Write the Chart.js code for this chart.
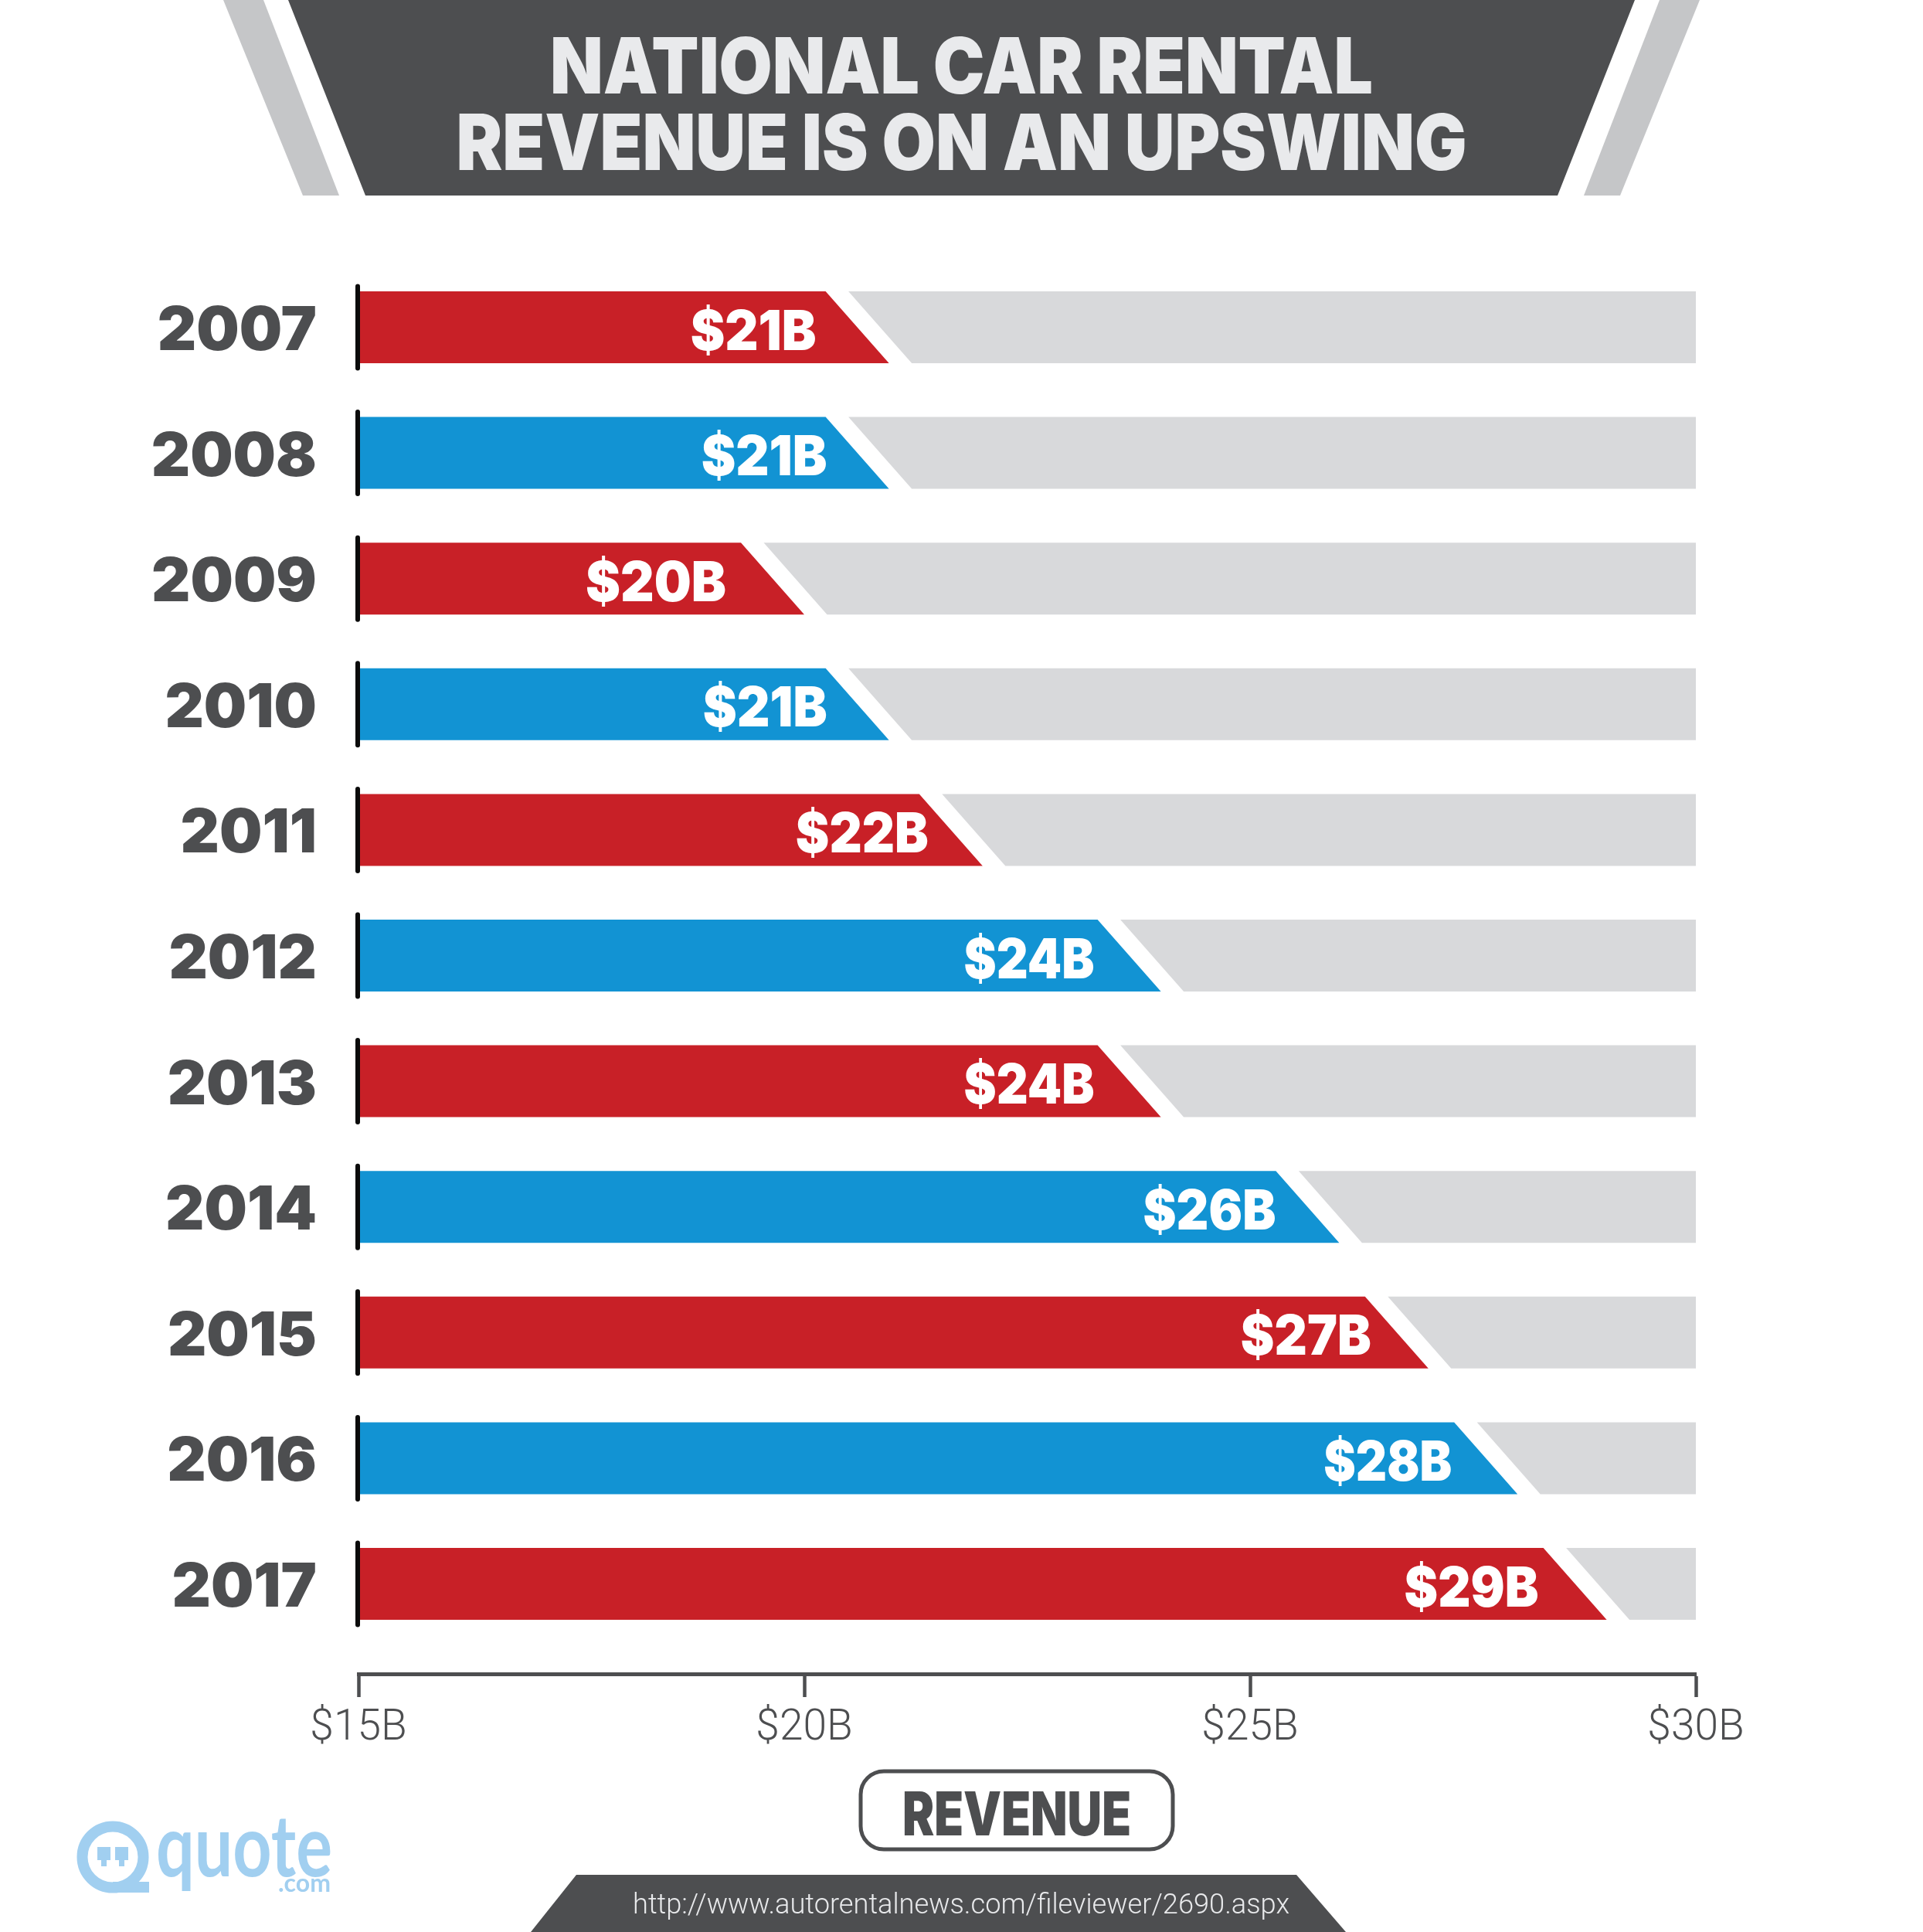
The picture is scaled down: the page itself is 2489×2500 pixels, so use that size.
<!DOCTYPE html>
<html>
<head>
<meta charset="utf-8">
<title>National Car Rental Revenue</title>
<script src="https://cdn.jsdelivr.net/npm/chart.js@4/dist/chart.umd.min.js"></script>
<style>
  html, body { margin: 0; padding: 0; background: #fff; }
  canvas { display: block; }
</style>
</head>
<body>
<canvas id="revenueChart" width="2489" height="2500"></canvas>
<script>
const years = ['2007', '2008', '2009', '2010', '2011', '2012', '2013', '2014', '2015', '2016', '2017'];
const revenue = [20.95, 20.95, 20, 20.95, 22, 24, 24, 26, 27, 28, 29];
const valueLabels = ['$21B', '$21B', '$20B', '$21B', '$22B', '$24B', '$24B', '$26B', '$27B', '$28B', '$29B'];
const axisMin = 15;
const axisMax = 30;
const axisStep = 5;
const titleLines = ['NATIONAL CAR RENTAL', 'REVENUE IS ON AN UPSWING'];
const axisName = 'REVENUE';
const sourceUrl = 'http://www.autorentalnews.com/fileviewer/2690.aspx';

const DARK = '#4d4e50';
const RED = '#c82027';
const BLUE = '#1293d3';
const GREY = '#d8d9db';
const LOGO = '#a1cff0';
const HEAVY = 'Inter, "Noto Sans", sans-serif';
const LIGHT = 'Roboto, "Liberation Sans", sans-serif';

const SLANT = 82;
const GAP = 29.5;
// how far each value label ends left of its bar tip, and how wide it is
const labelInset = [94, 80, 101, 80, 70, 86, 86, 82, 74, 85, 88];
const labelWidth = [163, 163, 182, 161, 172, 169, 169, 172, 169, 166, 174];

function poly(ctx, pts, color) {
  ctx.fillStyle = color;
  ctx.beginPath();
  pts.forEach((p, i) => (i ? ctx.lineTo(p[0], p[1]) : ctx.moveTo(p[0], p[1])));
  ctx.closePath();
  ctx.fill();
}

// the original font is not installed, so fit each string to its measured width
function drawText(ctx, text, x, y, font, color, width, align) {
  ctx.save();
  ctx.font = font;
  ctx.fillStyle = color;
  ctx.textAlign = align || 'center';
  ctx.textBaseline = 'alphabetic';
  ctx.translate(x, y);
  ctx.scale(width / ctx.measureText(text).width, 1);
  ctx.fillText(text, 0, 0);
  ctx.restore();
}

function drawBanner(ctx, W) {
  poly(ctx, [[289, 0], [341, 0], [439, 253], [392, 253]], '#c5c6c8');
  poly(ctx, [[W - 289, 0], [W - 341, 0], [W - 439, 253], [W - 392, 253]], '#c5c6c8');
  poly(ctx, [[373, 0], [W - 373, 0], [W - 473, 253], [473, 253]], DARK);
  drawText(ctx, titleLines[0], W / 2, 121, '900 100px ' + HEAVY, '#e9eaec', 1065);
  drawText(ctx, titleLines[1], W / 2, 220, '900 100px ' + HEAVY, '#e9eaec', 1308);
}

function drawFooter(ctx) {
  poly(ctx, [[746, 2426], [1678, 2426], [1742, 2500], [687, 2500]], DARK);
  drawText(ctx, sourceUrl, 1244, 2476, '300 36px ' + LIGHT, '#e9eaec', 850);

  // axis name badge
  ctx.strokeStyle = DARK;
  ctx.lineWidth = 5;
  ctx.beginPath();
  ctx.roundRect(1114, 2292, 404, 101, 30);
  ctx.stroke();
  drawText(ctx, axisName, 1316, 2375, '900 78px ' + HEAVY, DARK, 296);
}

function drawLogo(ctx) {
  ctx.strokeStyle = LOGO;
  ctx.lineWidth = 14;
  ctx.beginPath();
  ctx.arc(146, 2403, 39.5, 0, Math.PI * 2);
  ctx.stroke();
  ctx.fillStyle = LOGO;
  ctx.fillRect(146, 2435, 47, 14);
  ctx.fillRect(126, 2390, 17, 17);
  ctx.fillRect(149, 2390, 17, 17);
  ctx.fillRect(131, 2405, 7, 10);
  ctx.fillRect(154, 2405, 7, 10);
  drawText(ctx, 'quote', 202, 2428, '700 112px Lato, ' + HEAVY, LOGO, 228, 'left');
  drawText(ctx, '.com', 428, 2448, '700 32px Lato, ' + HEAVY, LOGO, 68, 'right');
}

const decorations = {
  id: 'decorations',
  beforeDraw(chart) {
    const ctx = chart.ctx;
    ctx.save();
    drawBanner(ctx, chart.width);
    drawFooter(ctx);
    drawLogo(ctx);
    ctx.restore();
  },
  // bars have a slanted end, so draw them from the library's elements
  beforeDatasetDraw(chart, args) {
    const ctx = chart.ctx;
    const isTrack = args.index === 0;
    const colors = args.meta.controller.getDataset().backgroundColor;
    args.meta.data.forEach((bar, i) => {
      const { x, y, base, height } = bar.getProps(['x', 'y', 'base', 'height'], true);
      const top = y - height / 2;
      const bottom = y + height / 2;
      if (isTrack) {
        poly(ctx, [[base + GAP - SLANT, top], [x, top], [x, bottom], [base + GAP, bottom]], colors[i]);
      } else {
        poly(ctx, [[base, top], [x - SLANT, top], [x, bottom], [base, bottom]], colors[i]);
      }
    });
    return false;
  },
  afterDatasetsDraw(chart) {
    const ctx = chart.ctx;
    const bars = chart.getDatasetMeta(1).data;
    ctx.save();
    ctx.strokeStyle = '#0b0b0b';
    ctx.lineWidth = 6;
    ctx.lineCap = 'round';
    bars.forEach((bar, i) => {
      const { x, y, base, height } = bar.getProps(['x', 'y', 'base', 'height'], true);
      ctx.beginPath();
      ctx.moveTo(base - 1.5, y - height / 2 - 6.5);
      ctx.lineTo(base - 1.5, y + height / 2 + 6.5);
      ctx.stroke();
      drawText(ctx, valueLabels[i], x - labelInset[i], y + 29, '900 72px ' + HEAVY, '#fff', labelWidth[i], 'right');
    });
    ctx.restore();
  }
};

new Chart(document.getElementById('revenueChart'), {
  type: 'bar',
  plugins: [decorations],
  data: {
    labels: years,
    datasets: [
      {
        label: 'Remaining',
        data: revenue.map(v => [v, axisMax]),
        backgroundColor: years.map(() => GREY)
      },
      {
        label: 'Revenue',
        data: revenue,
        base: axisMin,
        backgroundColor: years.map((y, i) => (i % 2 ? BLUE : RED))
      }
    ]
  },
  options: {
    indexAxis: 'y',
    responsive: false,
    animation: false,
    devicePixelRatio: 1,
    layout: { padding: { left: 0, right: 294, top: 342.2, bottom: 369.2 } },
    datasets: { bar: { barThickness: 93, grouped: false } },
    plugins: { legend: { display: false }, tooltip: { enabled: false }, title: { display: false } },
    scales: {
      y: {
        afterFit(scale) { scale.width = 464; },
        border: { display: false },
        grid: { display: false },
        ticks: {
          padding: 46,
          labelOffset: 6,
          color: DARK,
          font: { family: HEAVY, weight: '900', size: 78 }
        }
      },
      x: {
        // axis sits a little below the last band
        position: { y: 10.72 },
        min: axisMin,
        max: axisMax,
        border: { display: true, color: DARK, width: 5 },
        grid: { drawOnChartArea: false, drawTicks: true, tickLength: 27, tickWidth: 4.5, tickColor: DARK },
        ticks: {
          stepSize: axisStep,
          padding: 11,
          maxRotation: 0,
          color: DARK,
          font: { family: LIGHT, weight: '300', size: 55 },
          callback: v => '$' + v + 'B'
        }
      }
    }
  }
});
</script>
</body>
</html>
